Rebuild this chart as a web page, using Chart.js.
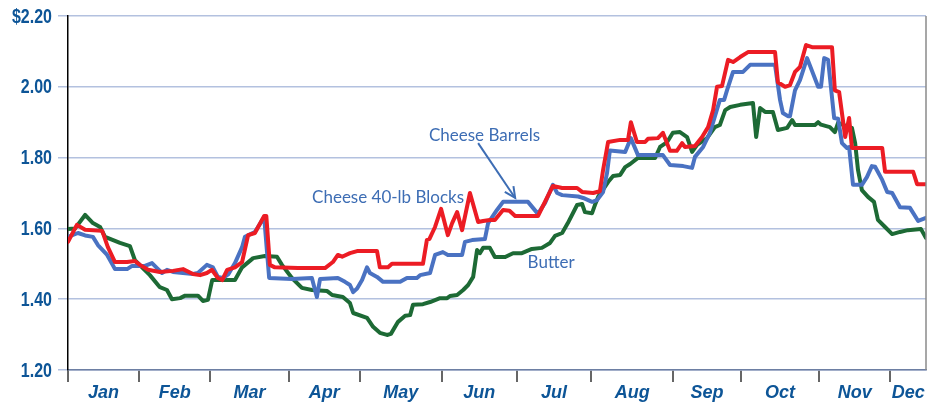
<!DOCTYPE html>
<html>
<head>
<meta charset="utf-8">
<script src="https://cdn.jsdelivr.net/npm/chart.js@4.4.1/dist/chart.umd.min.js"></script>
<style>
  html, body { margin: 0; padding: 0; background: #fff; }
  #wrap { width: 932px; height: 402px; }
</style>
</head>
<body>
<div id="wrap"><canvas id="priceChart" width="932" height="402"></canvas></div>
<script>
// trading-day index where each month starts, and last day shown
var monthNames = ['Jan','Feb','Mar','Apr','May','Jun','Jul','Aug','Sep','Oct','Nov','Dec'];
var monthStart = [0,20,40,62,82,105,126,147,170,189,211,231];
var lastDay = 241;

var yTicks = [1.20,1.40,1.60,1.80,2.00,2.20];

// [trading day, $/lb]
var blocks = [[0,1.562],[2.5,1.61],[4.8,1.596],[9.6,1.593],[11.2,1.547],[13.2,1.505],[16.6,1.505],[18.8,1.508],[20.2,1.497],[22.5,1.483],[25.8,1.477],[29.5,1.48],[32.3,1.485],[35.1,1.471],[37.1,1.468],[39,1.474],[40.4,1.483],[42.1,1.46],[43.3,1.454],[44.7,1.483],[46.9,1.49],[48.9,1.505],[50.6,1.581],[52.5,1.587],[55.1,1.635],[55.7,1.635],[56.7,1.497],[58.1,1.49],[64.6,1.488],[72.2,1.488],[74.4,1.505],[75.8,1.525],[77,1.52],[79.2,1.53],[81.2,1.536],[86.8,1.536],[87.6,1.49],[89.9,1.49],[91,1.5],[99.7,1.5],[100.8,1.567],[101.5,1.57],[103.1,1.604],[104.8,1.655],[106.7,1.581],[107.9,1.615],[109.3,1.646],[110.7,1.595],[112.9,1.7],[115.2,1.618],[116.6,1.621],[118.5,1.624],[119.9,1.624],[122.2,1.652],[124,1.65],[125.6,1.635],[132,1.635],[136.2,1.72],[138.8,1.714],[143,1.714],[144.4,1.703],[147.5,1.7],[149.4,1.705],[150.3,1.765],[151.7,1.844],[155.1,1.85],[157.3,1.85],[158.1,1.9],[159.8,1.844],[162.1,1.844],[162.9,1.853],[165.7,1.855],[167.1,1.87],[169.1,1.819],[171,1.819],[172.5,1.841],[173.3,1.83],[176.1,1.833],[178.1,1.858],[179.8,1.886],[181.2,1.934],[182.3,2.0],[183.7,2.002],[185.4,2.076],[186.8,2.07],[188.8,2.084],[191,2.098],[198.6,2.098],[199.4,2.013],[201.4,2.0],[202.8,2.005],[204.2,2.042],[205.6,2.056],[207.3,2.118],[209,2.112],[214.6,2.112],[215.4,1.99],[216.6,1.985],[218.3,1.858],[219.4,1.912],[220.2,1.827],[228.7,1.827],[229.5,1.76],[237.4,1.76],[238.5,1.725],[241,1.725]];

var barrels = [[0,1.576],[2.8,1.587],[4.8,1.58],[7,1.576],[8.4,1.553],[11,1.525],[13.2,1.485],[16.6,1.485],[18,1.494],[21.6,1.494],[23.6,1.502],[25,1.488],[26.4,1.474],[27.8,1.483],[29.5,1.477],[35.1,1.471],[36.5,1.474],[39,1.497],[40.7,1.49],[42.1,1.463],[43.5,1.46],[45,1.47],[46.9,1.502],[48.9,1.547],[49.7,1.576],[52.5,1.59],[55.1,1.632],[56.5,1.46],[62.9,1.457],[68.5,1.46],[69.9,1.406],[70.8,1.457],[75.8,1.46],[77.8,1.449],[79.2,1.44],[80.1,1.42],[81.2,1.43],[82.6,1.454],[84,1.49],[84.8,1.474],[86.8,1.463],[88.5,1.449],[93.3,1.449],[95.2,1.46],[98,1.46],[98.9,1.468],[101.7,1.474],[103.1,1.525],[105.3,1.533],[106.7,1.525],[110.7,1.525],[111.5,1.562],[113.5,1.567],[117.1,1.57],[118,1.615],[120.5,1.652],[122.2,1.675],[129.2,1.675],[132,1.641],[134,1.672],[136.2,1.723],[137.4,1.7],[138.8,1.694],[143.3,1.69],[144.7,1.686],[147.2,1.675],[148.6,1.68],[150.3,1.703],[151.4,1.756],[152.2,1.82],[156.5,1.816],[158.1,1.855],[160.1,1.807],[167.1,1.807],[169.1,1.779],[172.8,1.776],[175.3,1.771],[176.1,1.802],[178.4,1.83],[180.3,1.87],[183.1,1.963],[184.3,1.963],[185.1,1.99],[186.8,2.042],[189.6,2.042],[191.6,2.062],[198.6,2.062],[200,1.963],[200.8,1.926],[202.2,1.917],[202.8,1.917],[204.2,1.99],[205.6,2.019],[207.6,2.081],[210.7,2.0],[211.5,2.0],[212.4,2.081],[213.5,2.076],[215.2,1.912],[216.3,1.91],[217.4,1.841],[218.8,1.827],[219.4,1.83],[220.5,1.723],[223,1.723],[224.4,1.745],[225.8,1.776],[226.7,1.774],[228.7,1.737],[230.1,1.703],[231.5,1.7],[233.7,1.66],[236.5,1.658],[238.8,1.621],[241,1.63]];

var butter = [[0,1.598],[2,1.6],[4.8,1.638],[7,1.615],[9,1.604],[10.4,1.576],[14.6,1.559],[17.4,1.55],[18.8,1.51],[23,1.468],[25.8,1.434],[27.8,1.426],[29.2,1.4],[31.5,1.403],[32.9,1.41],[36.5,1.41],[37.9,1.395],[39.3,1.398],[40.5,1.454],[46.9,1.454],[48.9,1.49],[52,1.516],[55.3,1.522],[58.7,1.52],[60.1,1.497],[62.9,1.46],[65.7,1.432],[68.5,1.426],[72.8,1.423],[74.2,1.412],[77.2,1.406],[79.2,1.389],[80.1,1.361],[84,1.347],[85.7,1.322],[87.6,1.305],[89.6,1.299],[90.7,1.302],[92.7,1.336],[94.7,1.353],[96.1,1.355],[96.9,1.384],[99.7,1.386],[101.7,1.392],[104.5,1.403],[106.5,1.403],[107.3,1.409],[109.3,1.412],[111,1.426],[112.4,1.44],[113.8,1.463],[114.9,1.539],[115.7,1.53],[116.6,1.545],[118.5,1.545],[119.9,1.519],[122.8,1.519],[125,1.53],[127.5,1.53],[130.3,1.542],[133.1,1.545],[135.4,1.559],[136.8,1.579],[138.8,1.587],[140.4,1.615],[143,1.666],[144.4,1.669],[145.2,1.646],[147.2,1.643],[148,1.666],[148.9,1.689],[151.7,1.731],[153.1,1.748],[155.1,1.751],[156.5,1.773],[157.9,1.782],[160.1,1.799],[164.9,1.799],[166.3,1.83],[168.3,1.844],[169.9,1.87],[171.9,1.872],[173.9,1.858],[175.3,1.816],[176.7,1.836],[179.5,1.855],[181.7,1.886],[183.1,1.892],[184.6,1.934],[186,1.943],[188.8,1.949],[192.4,1.954],[193.3,1.858],[194.4,1.94],[195.8,1.929],[198,1.929],[199.4,1.878],[202,1.884],[203.4,1.906],[204.2,1.892],[209.8,1.892],[210.7,1.9],[211.5,1.893],[214,1.886],[215.4,1.872],[216.3,1.898],[218.8,1.888],[220.2,1.884],[221.1,1.841],[221.9,1.765],[223,1.708],[224.7,1.689],[226.4,1.675],[227.5,1.624],[229.5,1.604],[231.5,1.584],[233.7,1.59],[235.9,1.595],[239.6,1.598],[241,1.573]];

// callout labels, anchored in data units (day, price)
var notes = [
  { text: 'Cheese Barrels', day: 117, price: 1.862 },
  { text: 'Cheese 40-lb Blocks', day: 89.9, price: 1.686 },
  { text: 'Butter', day: 135.7, price: 1.504 }
];
var arrowFrom = [115.2, 1.841];
var arrowTo = [125.6, 1.686];

var labelBlue = '#0d5597';
var noteBlue = '#3d6db4';

function toXY(arr){
  return arr.map(function(p){ return { x: p[0], y: p[1] }; });
}

var mids = [];
for (var i = 0; i < monthStart.length; i++) {
  var end = i < monthStart.length - 1 ? monthStart[i+1] : lastDay;
  mids.push((monthStart[i] + end) / 2);
}

function priceLabel(v){
  return (v > 2.19 ? '$' : '') + Number(v).toFixed(2);
}

var extras = {
  id: 'extras',
  afterDraw: function(chart){
    var ctx = chart.ctx, a = chart.chartArea;
    var xs = chart.scales.x, ys = chart.scales.y;
    ctx.save();
    // right frame line
    ctx.strokeStyle = '#8a8a8a';
    ctx.lineWidth = 1.5;
    ctx.beginPath();
    ctx.moveTo(a.right, a.top);
    ctx.lineTo(a.right, a.bottom);
    ctx.stroke();

    // y labels: bold, squeezed like a condensed face
    ctx.fillStyle = labelBlue;
    ctx.font = 'bold 20px "Liberation Sans", Arial, sans-serif';
    ctx.textAlign = 'right';
    ctx.textBaseline = 'middle';
    yTicks.forEach(function(v){
      ctx.save();
      ctx.translate(a.left - 16, ys.getPixelForValue(v) + 1);
      ctx.scale(0.8, 1);
      ctx.fillText(priceLabel(v), 0, 0);
      ctx.restore();
    });

    // callouts
    ctx.fillStyle = noteBlue;
    ctx.font = '17px Lato, "Open Sans", sans-serif';
    ctx.textAlign = 'center';
    ctx.textBaseline = 'middle';
    notes.forEach(function(n){
      ctx.fillText(n.text, xs.getPixelForValue(n.day), ys.getPixelForValue(n.price));
    });

    // arrow
    var x1 = xs.getPixelForValue(arrowFrom[0]), y1 = ys.getPixelForValue(arrowFrom[1]);
    var x2 = xs.getPixelForValue(arrowTo[0]), y2 = ys.getPixelForValue(arrowTo[1]);
    ctx.strokeStyle = noteBlue;
    ctx.lineWidth = 2;
    ctx.beginPath();
    ctx.moveTo(x1, y1);
    ctx.lineTo(x2, y2);
    ctx.stroke();
    var ang = Math.atan2(y2 - y1, x2 - x1);
    ctx.beginPath();
    ctx.moveTo(x2 - 12*Math.cos(ang - 0.45), y2 - 12*Math.sin(ang - 0.45));
    ctx.lineTo(x2, y2);
    ctx.lineTo(x2 - 12*Math.cos(ang + 0.45), y2 - 12*Math.sin(ang + 0.45));
    ctx.stroke();
    ctx.restore();
  }
};

var ctxEl = document.getElementById('priceChart');
var chart = new Chart(ctxEl, {
  type: 'line',
  data: {
    datasets: [
      { label: 'Cheese 40-lb Blocks', data: toXY(blocks), borderColor: '#ec1c24', borderWidth: 4 },
      { label: 'Cheese Barrels', data: toXY(barrels), borderColor: '#4a72c2', borderWidth: 4 },
      { label: 'Butter', data: toXY(butter), borderColor: '#1d6a35', borderWidth: 4 }
    ]
  },
  options: {
    responsive: false,
    animation: false,
    parsing: false,
    elements: { point: { radius: 0 }, line: { tension: 0, borderJoinStyle: 'round', borderCapStyle: 'round' } },
    layout: { padding: { left: 0, right: 6, top: 16, bottom: 0 } },
    plugins: { legend: { display: false }, tooltip: { enabled: false } },
    scales: {
      x: {
        type: 'linear',
        min: 0,
        max: lastDay,
        afterBuildTicks: function(scale){
          var t = monthStart.concat(mids).sort(function(a,b){ return a-b; });
          scale.ticks = t.map(function(v){ return { value: v }; });
        },
        afterFit: function(scale){ scale.height = 32; },
        grid: {
          drawOnChartArea: false,
          tickLength: 12,
          lineWidth: 2,
          tickColor: function(c){
            return (c.tick && monthStart.indexOf(c.tick.value) >= 0) ? '#666666' : 'rgba(0,0,0,0)';
          }
        },
        border: { color: '#6d7fa3', width: 1.5 },
        ticks: {
          autoSkip: false,
          maxRotation: 0,
          padding: 0,
          color: labelBlue,
          font: { family: '"Liberation Sans", Arial, sans-serif', size: 18, weight: 'bold', style: 'italic' },
          callback: function(v){
            var k = mids.indexOf(v);
            return k >= 0 ? monthNames[k] : '';
          }
        }
      },
      y: {
        min: 1.2,
        max: 2.2,
        afterBuildTicks: function(scale){
          scale.ticks = yTicks.map(function(v){ return { value: v }; });
        },
        afterFit: function(scale){ scale.width = 68; },
        grid: { color: '#b3c1df', lineWidth: 1.5, tickLength: 10 },
        border: { color: '#000000', width: 1.5 },
        ticks: { display: false }
      }
    }
  },
  plugins: [extras]
});
</script>
</body>
</html>
